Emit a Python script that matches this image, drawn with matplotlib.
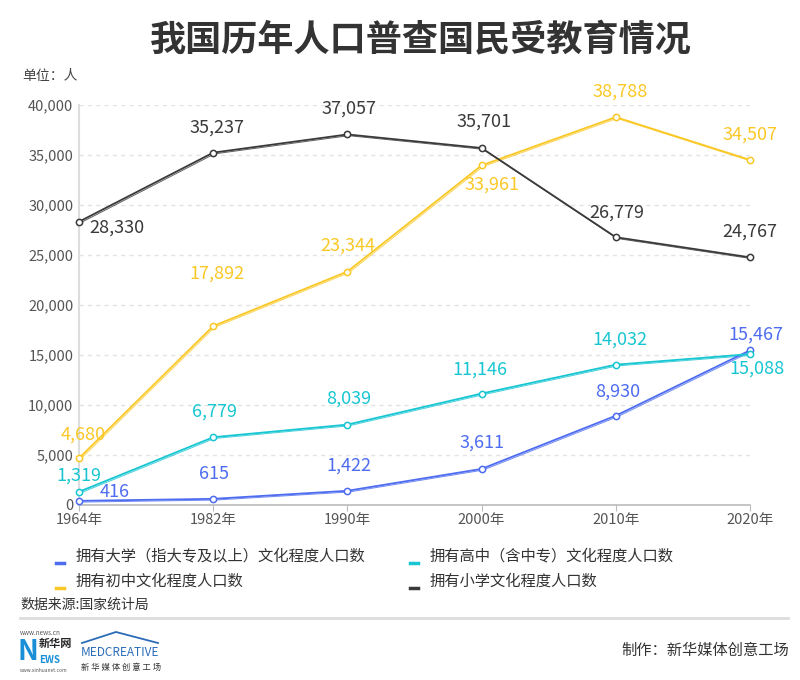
import matplotlib
matplotlib.use("Agg")
import matplotlib.pyplot as plt
import matplotlib.transforms as mtransforms
from matplotlib.lines import Line2D

plt.rcParams['font.family'] = ['Noto Sans CJK SC', 'DejaVu Sans']

# ---------------- data ----------------
years = ["1964年", "1982年", "1990年", "2000年", "2010年", "2020年"]
university = [416, 615, 1422, 3611, 8930, 15467]
high_school = [1319, 6779, 8039, 11146, 14032, 15088]
junior_high = [4680, 17892, 23344, 33961, 38788, 34507]
primary = [28330, 35237, 37057, 35701, 26779, 24767]

series_names = ["拥有大学（指大专及以上）文化程度人口数",
                "拥有高中（含中专）文化程度人口数",
                "拥有初中文化程度人口数",
                "拥有小学文化程度人口数"]
y_ticks = [0, 5000, 10000, 15000, 20000, 25000, 30000, 35000, 40000]

# ---------------- styles ----------------
colors = ["#4d6cf0", "#17c6d2", "#fac826", "#3a3a3a"]
# label offsets in pixels (dx, dy) relative to point
offsets = [
    [(36, 9), (1, 25), (1, 25), (0, 26), (2, 24), (6, 16)],
    [(0, 16), (1, 26), (1, 26), (-2, 24), (4, 25), (7, -15)],
    [(4, 24), (4, 52), (0, 26), (10, -19), (4, 25), (0, 25)],
    [(38, -6), (4, 25), (2, 26), (2, 26), (1, 25), (0, 26)],
]

W, H = 800, 680
fig = plt.figure(figsize=(8, 6.8), dpi=100)
L, R, T, B = 79, 750, 105, 505
ax = fig.add_axes([L / W, 1 - B / H, (R - L) / W, (B - T) / H])

x = list(range(len(years)))
all_series = [university, high_school, junior_high, primary]
px2pt = 0.72

for vals, col, offs in zip(all_series, colors, offsets):
    ax.plot(x, vals, color=col, lw=1.3, marker='o', ms=4.5, mfc='white',
            mec=col, mew=1.1, zorder=3, clip_on=False)
    tr = mtransforms.offset_copy(ax.transData, fig=fig, x=0.9, y=-0.9, units='points')
    ax.plot(x, vals, color=col, lw=0.7, alpha=0.8, transform=tr, zorder=2, clip_on=False)
    for xi, v, (dx, dy) in zip(x, vals, offs):
        ax.annotate(f"{v:,}", (xi, v), xytext=(dx * px2pt, dy * px2pt),
                    textcoords='offset points', ha='center', va='center',
                    color=col, fontsize=13, zorder=5)

ax.set_xlim(0, len(years) - 1)
ax.set_ylim(0, 40000)
ax.set_xticks(x)
ax.set_xticklabels(years, fontsize=10.5, color='#555555')
ax.set_yticks(y_ticks)
ax.set_yticklabels([f"{t:,}" for t in y_ticks], fontsize=10.5, color='#555555')
ax.tick_params(axis='y', length=0, pad=4)
ax.tick_params(axis='x', length=4, color='#bbbbbb', pad=2)
for t in y_ticks[1:]:
    ax.axhline(t, color='#e3e3e3', lw=1, ls=(0, (3, 3)), zorder=0)
for s in ['top', 'right']:
    ax.spines[s].set_visible(False)
ax.spines['left'].set_color('#dddddd')
ax.spines['left'].set_linewidth(1.5)
ax.spines['bottom'].set_color('#bbbbbb')
ax.spines['bottom'].set_linewidth(1.2)


def fx(px):
    return px / W


def fy(py):
    return 1 - py / H


# title
fig.text(fx(421), fy(40), "我国历年人口普查国民受教育情况", ha='center', va='center',
         fontsize=26, fontweight='bold', color='#333333')
fig.text(fx(22), fy(76), "单位：人", ha='left', va='center', fontsize=10, color='#444444')

# legend
leg_pos = [(56, 556), (410, 556), (56, 581), (410, 581)]
for (lx, ly), col, name in zip(leg_pos, colors, series_names):
    fig.add_artist(Line2D([fx(lx), fx(lx + 8)], [fy(ly + 7), fy(ly + 7)], color=col, lw=2.5))
    fig.text(fx(lx + 20), fy(ly), name, ha='left', va='center', fontsize=11, color='#333333')

fig.text(fx(20), fy(605), "数据来源:国家统计局", ha='left', va='center', fontsize=10, color='#333333')
fig.add_artist(Line2D([fx(20), fx(788)], [fy(618), fy(618)], color='#dddddd', lw=2))

# logos (approximated with text)
fig.text(fx(20), fy(633), "www.news.cn", ha='left', va='center', fontsize=4.5, color='#555555')
fig.text(fx(18), fy(652), "N", ha='left', va='center', fontsize=20, fontweight='bold', color='#1a8fd8')
fig.text(fx(39), fy(644), "新华网", ha='left', va='center', fontsize=8, fontweight='bold', color='#222222')
fig.text(fx(39), fy(660), "EWS", ha='left', va='center', fontsize=7, fontweight='bold', color='#1a8fd8')
fig.text(fx(20), fy(671), "www.xinhuanet.com", ha='left', va='center', fontsize=3.5, color='#555555')
fig.add_artist(Line2D([fx(82), fx(116), fx(158)], [fy(643), fy(632), fy(643)], color='#2b6cb8', lw=1.3))
fig.text(fx(81), fy(652), "MEDCREATIVE", ha='left', va='center', fontsize=8.5, color='#2b6cb8')
fig.text(fx(81), fy(667), "新 华 媒 体 创 意 工 场", ha='left', va='center', fontsize=6, color='#333333')

fig.text(fx(789), fy(650), "制作：新华媒体创意工场", ha='right', va='center', fontsize=11, color='#333333')

fig.savefig("out.png", dpi=100, facecolor='white')
